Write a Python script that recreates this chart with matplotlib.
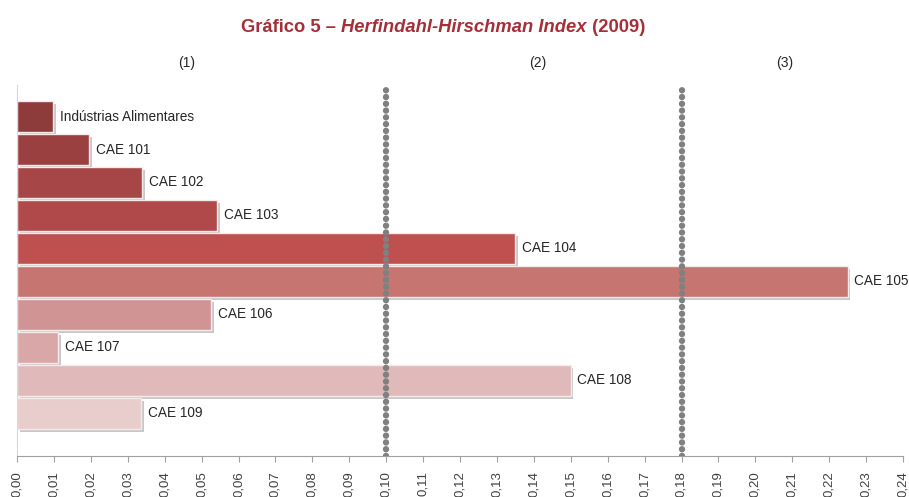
import matplotlib
matplotlib.use("Agg")
import matplotlib.pyplot as plt

plt.rcParams['font.family'] = ['Liberation Sans', 'DejaVu Sans']

setores = ["Indústrias Alimentares", "CAE 101", "CAE 102", "CAE 103", "CAE 104",
           "CAE 105", "CAE 106", "CAE 107", "CAE 108", "CAE 109"]
hhi = [0.0098, 0.0195, 0.0339, 0.0542, 0.135, 0.225, 0.0526, 0.0111, 0.150, 0.0336]
cores = ["#8E3B3B", "#9B4040", "#A64646", "#B04A4A", "#BE5050",
         "#C77570", "#D09494", "#D9A7A7", "#E0BABA", "#E8CDCD"]
limites = [0.10, 0.18]
grupos = ["(1)", "(2)", "(3)"]
pos_grupos = [0.046, 0.141, 0.208]
ticks = [i / 100 for i in range(25)]

fig = plt.figure(figsize=(9.09, 4.97), dpi=100)
ax = fig.add_axes([17 / 909, 41 / 497, 886 / 909, 371 / 497])

y = list(range(len(setores)))
# sombra
ax.barh([v + 0.08 for v in y], hhi, height=0.94, left=0.0007, color="#c8c8c8", zorder=1)
ax.barh(y, hhi, height=0.94, color=cores, edgecolor="#f4eaea", linewidth=1.0, zorder=2)

for yi, v, nome in zip(y, hhi, setores):
    ax.text(v + 0.0018, yi, nome, va="center", ha="left", fontsize=9.8, color="#262626", zorder=4)

for lim in limites:
    ax.axvline(lim, color="#808080", linewidth=4.6, linestyle=(0, (0.01, 1.05)),
               dash_capstyle="round", zorder=3)

for g, p in zip(grupos, pos_grupos):
    ax.text(p, 1.06, g, transform=ax.get_xaxis_transform(), ha="center", va="center",
            fontsize=10, color="#262626")

ax.set_xlim(0, 0.24)
ax.set_ylim(10.29, -0.955)
ax.set_xticks(ticks)
ax.set_xticklabels([f"{t:.2f}".replace(".", ",") for t in ticks], rotation=90,
                   fontsize=9.5, color="#404040")
ax.tick_params(axis="x", length=4, color="#a0a0a0", pad=7)
ax.set_yticks([])
for s in ["top", "right"]:
    ax.spines[s].set_visible(False)
ax.spines["bottom"].set_color("#a0a0a0")
ax.spines["left"].set_color("#d8d8d8")

# título com parte em itálico
cor_t = "#A52F38"
partes = [("Gráfico 5 – ", "normal"), ("Herfindahl-Hirschman Index", "italic"), (" (2009)", "normal")]
fig.canvas.draw()
r = fig.canvas.get_renderer()
larg = []
objs = []
for txt, st in partes:
    t = fig.text(0, 0, txt, fontsize=13.2, fontweight="bold", style=st, color=cor_t)
    larg.append(t.get_window_extent(r).width)
    objs.append(t)
x0 = 443 - sum(larg) / 2
for t, w in zip(objs, larg):
    t.set_position((x0 / 909, 1 - 32 / 497))
    x0 += w

fig.savefig("out.png", dpi=100)
